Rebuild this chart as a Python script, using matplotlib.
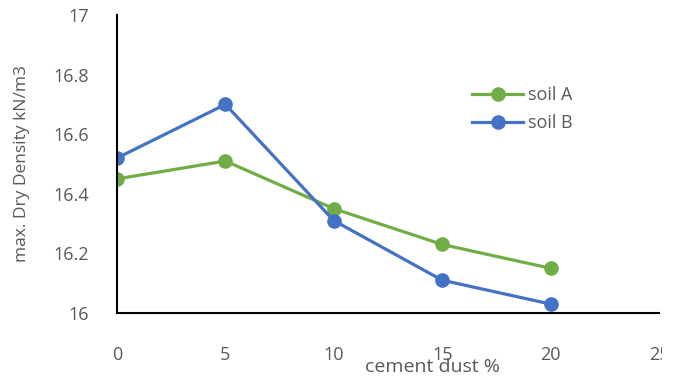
import matplotlib.pyplot as plt
from matplotlib.transforms import Bbox, TransformedBbox

dust = [0, 5, 10, 15, 20]
soil_a = [16.45, 16.51, 16.35, 16.23, 16.15]
soil_b = [16.52, 16.70, 16.31, 16.11, 16.03]
xticks = [0, 5, 10, 15, 20, 25]
yticks = [16, 16.2, 16.4, 16.6, 16.8, 17]

plt.rcParams['font.family'] = ['Open Sans', 'DejaVu Sans']
grey = '#595959'

fig = plt.figure(figsize=(6.76, 3.81), dpi=100)
ax = fig.add_axes([117 / 676, 1 - 313 / 381, (659 - 117) / 676, (313 - 15) / 381])

ax.plot(dust, soil_a, color='#70AD47', lw=2.3, marker='o', ms=9.5, label='soil A')
ax.plot(dust, soil_b, color='#4472C4', lw=2.3, marker='o', ms=9.5, label='soil B')

ax.set_xlim(0, 25)
ax.set_ylim(16, 17)
ax.set_xticks(xticks)
ax.set_yticks(yticks)
ax.set_yticklabels(['16', '16.2', '16.4', '16.6', '16.8', '17'])
ax.tick_params(length=0, labelsize=13, colors=grey)
ax.tick_params(axis='x', pad=24)
ax.tick_params(axis='y', pad=20)
for s in ['top', 'right']:
    ax.spines[s].set_visible(False)
for s in ['left', 'bottom']:
    ax.spines[s].set_linewidth(1.5)
    ax.spines[s].set_color('black')
for lab in ax.get_yticklabels() + ax.get_xticklabels():
    lab.set_color(grey)

# the last x tick label runs off the plot frame
clip = TransformedBbox(Bbox([[0, 0], [662 / 676, 1]]), fig.transFigure)
for lab in ax.get_xticklabels():
    lab.set_clip_box(clip)
    lab.set_clip_on(True)

fig.text(432 / 676, 1 - 367 / 381, 'cement dust %', ha='center', va='center',
         fontsize=14, color=grey)
fig.text(22 / 676, 1 - 163 / 381, 'max. Dry Density kN/m3', ha='center', va='center',
         rotation=90, fontsize=12.5, color=grey)

ax.legend(loc='upper left', bbox_to_anchor=(456 / 676, 1 - 70 / 381),
          bbox_transform=fig.transFigure, frameon=False, fontsize=13,
          labelcolor=grey, handlelength=2.8, handletextpad=0.3, labelspacing=0.55)

fig.savefig('out.png', dpi=100)
